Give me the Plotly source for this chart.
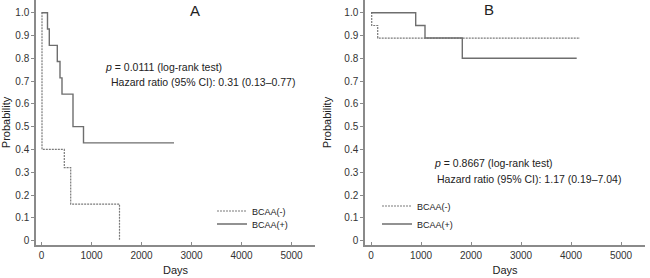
import plotly.graph_objects as go

W, H = 650, 278

# ---- data ----
a_neg_days = [0, 10, 456, 584, 1560]
a_neg_surv = [1.0, 0.4, 0.32, 0.16, 0.0]
a_pos_days = [0, 120, 156, 316, 370, 410, 630, 840, 2650]
a_pos_surv = [1.0, 0.929, 0.857, 0.786, 0.714, 0.643, 0.5, 0.429, 0.429]

b_neg_days = [0, 14, 134, 4180]
b_neg_surv = [1.0, 0.944, 0.889, 0.889]
b_pos_days = [0, 894, 1080, 1826, 4114]
b_pos_surv = [1.0, 0.944, 0.889, 0.80, 0.80]

x_ticks = [0, 1000, 2000, 3000, 4000, 5000]
y_ticks = [0, 0.1, 0.2, 0.3, 0.4, 0.5, 0.6, 0.7, 0.8, 0.9, 1.0]
y_ticktext = ["0", "0.1", "0.2", "0.3", "0.4", "0.5", "0.6", "0.7", "0.8", "0.9", "1.0"]
series_names = ["BCAA(-)", "BCAA(+)"]

FONT = "Liberation Sans, Arial, sans-serif"
AX = "#8a8a8a"
SOLID = "#6e6e6e"
DOT = "#7a7a7a"


def px(x):
    return x / W


def py(y):
    return 1 - y / H


fig = go.Figure()

fig.add_trace(go.Scatter(x=a_neg_days, y=a_neg_surv, mode="lines", line_shape="hv",
                         line=dict(color=DOT, width=1.2, dash="2px,1px"),
                         name=series_names[0], xaxis="x", yaxis="y", legend="legend"))
fig.add_trace(go.Scatter(x=a_pos_days, y=a_pos_surv, mode="lines", line_shape="hv",
                         line=dict(color=SOLID, width=1.4),
                         name=series_names[1], xaxis="x", yaxis="y", legend="legend2"))
fig.add_trace(go.Scatter(x=b_neg_days, y=b_neg_surv, mode="lines", line_shape="hv",
                         line=dict(color=DOT, width=1.2, dash="2px,1px"),
                         name=series_names[0], xaxis="x2", yaxis="y2", legend="legend3"))
fig.add_trace(go.Scatter(x=b_pos_days, y=b_pos_surv, mode="lines", line_shape="hv",
                         line=dict(color=SOLID, width=1.4),
                         name=series_names[1], xaxis="x2", yaxis="y2", legend="legend4"))

ydom = [py(245), 1.0]
yrange = [-0.0195, 1.056]

xaxis_common = dict(tickvals=x_ticks, showline=True, linecolor=AX, linewidth=1.5,
                    ticks="inside", ticklen=3, tickcolor=AX, tickwidth=1.2,
                    showgrid=False, zeroline=False, fixedrange=True,
                    tickfont=dict(family=FONT, size=10, color="#333"),
                    title=dict(text="Days", font=dict(family=FONT, size=11, color="#222"), standoff=7))
yaxis_common = dict(tickvals=y_ticks, ticktext=y_ticktext, range=yrange, domain=ydom,
                    showline=True, linecolor=AX, linewidth=1.5,
                    ticks="outside", ticklen=3, tickcolor=AX, tickwidth=1.2,
                    showgrid=False, zeroline=False, fixedrange=True,
                    tickfont=dict(family=FONT, size=10, color="#333"))

fig.update_layout(
    width=W, height=H,
    margin=dict(l=0, r=0, t=0, b=0),
    paper_bgcolor="white", plot_bgcolor="white",
    font=dict(family=FONT, color="#222"),
    xaxis=dict(xaxis_common, domain=[px(36), px(315)], range=[-110, 5470], anchor="y"),
    yaxis=dict(yaxis_common, anchor="x",
               title=dict(text="Probability", font=dict(family=FONT, size=11, color="#222"), standoff=5)),
    xaxis2=dict(xaxis_common, domain=[px(365), px(645)], range=[-120, 5480], anchor="y2"),
    yaxis2=dict(yaxis_common, anchor="x2",
                title=dict(text="Probability", font=dict(family=FONT, size=11, color="#222"), standoff=10)),
    showlegend=True,
)

leg_common = dict(bgcolor="rgba(0,0,0,0)", borderwidth=0, xanchor="left", yanchor="middle",
                  font=dict(family=FONT, size=9, color="#222"), itemwidth=30)
fig.update_layout(
    legend=dict(leg_common, x=px(212), y=py(211)),
    legend2=dict(leg_common, x=px(212), y=py(224)),
    legend3=dict(leg_common, x=px(377), y=py(206)),
    legend4=dict(leg_common, x=px(377), y=py(224)),
)

ann_font = dict(family=FONT, size=10.5, color="#222")
annotations = [
    dict(text="A", x=px(195), y=py(10), font=dict(family=FONT, size=15, color="#222"),
         xanchor="center", yanchor="middle"),
    dict(text="B", x=px(489), y=py(9), font=dict(family=FONT, size=15, color="#222"),
         xanchor="center", yanchor="middle"),
    dict(text="<i>p</i> = 0.0111 (log-rank test)", x=px(103), y=py(66.7), font=ann_font,
         xanchor="left", yanchor="middle"),
    dict(text="Hazard ratio (95% CI): 0.31 (0.13\u20130.77)", x=px(109), y=py(81.7), font=ann_font,
         xanchor="left", yanchor="middle"),
    dict(text="<i>p</i> = 0.8667 (log-rank test)", x=px(432), y=py(163.3), font=ann_font,
         xanchor="left", yanchor="middle"),
    dict(text="Hazard ratio (95% CI): 1.17 (0.19\u20137.04)", x=px(435), y=py(179.3), font=ann_font,
         xanchor="left", yanchor="middle"),
]
for a in annotations:
    a.update(xref="paper", yref="paper", showarrow=False)
fig.update_layout(annotations=annotations)

fig.write_html("out.html", config={"displayModeBar": False},
               post_script="document.body.style.margin='0';document.body.style.padding='0';")
